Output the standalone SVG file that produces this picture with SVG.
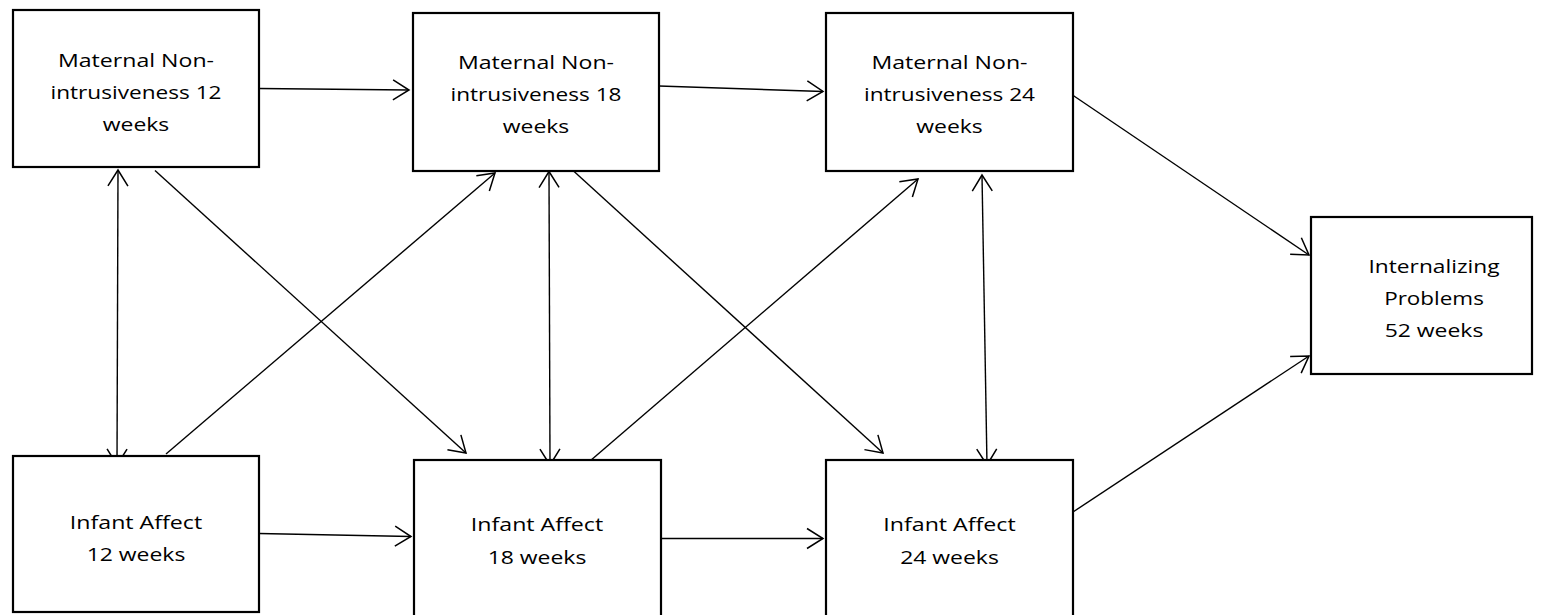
<svg xmlns="http://www.w3.org/2000/svg" width="1545" height="615" viewBox="0 0 1545 615">
<style>
.box{fill:#fff;stroke:#000;stroke-width:2.2}
.lbl{font-family:"Open Sans","Liberation Sans",sans-serif;font-size:19px;fill:#000;text-anchor:middle}
.c{fill:none;stroke:#000;stroke-width:1.4}
.one{marker-end:url(#ah)}
.two{marker-start:url(#ah);marker-end:url(#ah)}
</style>
<defs>
<marker id="ah" markerUnits="userSpaceOnUse" markerWidth="24" markerHeight="24" viewBox="-20 -12 24 24" refX="0" refY="0" orient="auto-start-reverse" overflow="visible">
<path d="M-16,-10 L0,0 L-16,10" fill="none" stroke="#000" stroke-width="1.5"/>
</marker>
</defs>
<rect width="1545" height="615" fill="#fff"/>
<g id="connectors">
<line class="c one" x1="259" y1="88.5" x2="409" y2="90"/>
<line class="c one" x1="659" y1="86" x2="823" y2="91.5"/>
<line class="c one" x1="1071" y1="94" x2="1309" y2="255"/>
<line class="c one" x1="1073" y1="512" x2="1309" y2="356"/>
<line class="c one" x1="259" y1="533.5" x2="411" y2="536.5"/>
<line class="c one" x1="661" y1="538.5" x2="823" y2="538.5"/>
<line class="c two" x1="118" y1="170" x2="117" y2="465"/>
<line class="c one" x1="155" y1="170.5" x2="466" y2="453"/>
<line class="c one" x1="166" y1="454" x2="495" y2="173"/>
<line class="c two" x1="549" y1="171.5" x2="550" y2="465"/>
<line class="c one" x1="573" y1="170.5" x2="883" y2="453"/>
<line class="c one" x1="590" y1="461" x2="918" y2="179"/>
<line class="c two" x1="982" y1="175" x2="987" y2="465"/>
</g>
<g id="m12">
<rect class="box" x="13" y="10" width="246" height="157"/>
<text class="lbl" x="136" y="67" textLength="156" lengthAdjust="spacingAndGlyphs">Maternal Non-</text>
<text class="lbl" x="136" y="99" textLength="171" lengthAdjust="spacingAndGlyphs">intrusiveness 12</text>
<text class="lbl" x="136" y="131" textLength="66.5" lengthAdjust="spacingAndGlyphs">weeks</text>
</g>
<g id="m18">
<rect class="box" x="413" y="13" width="246" height="158"/>
<text class="lbl" x="536" y="68.5" textLength="156" lengthAdjust="spacingAndGlyphs">Maternal Non-</text>
<text class="lbl" x="536" y="100.5" textLength="171" lengthAdjust="spacingAndGlyphs">intrusiveness 18</text>
<text class="lbl" x="536" y="132.5" textLength="66.5" lengthAdjust="spacingAndGlyphs">weeks</text>
</g>
<g id="m24">
<rect class="box" x="826" y="13" width="247" height="158"/>
<text class="lbl" x="949.5" y="68.5" textLength="156" lengthAdjust="spacingAndGlyphs">Maternal Non-</text>
<text class="lbl" x="949.5" y="100.5" textLength="171" lengthAdjust="spacingAndGlyphs">intrusiveness 24</text>
<text class="lbl" x="949.5" y="132.5" textLength="66.5" lengthAdjust="spacingAndGlyphs">weeks</text>
</g>
<g id="internalizing">
<rect class="box" x="1311" y="217" width="221" height="157"/>
<text class="lbl" x="1434" y="273" textLength="131" lengthAdjust="spacingAndGlyphs">Internalizing</text>
<text class="lbl" x="1434" y="305" textLength="99.7" lengthAdjust="spacingAndGlyphs">Problems</text>
<text class="lbl" x="1434" y="337" textLength="98.7" lengthAdjust="spacingAndGlyphs">52 weeks</text>
</g>
<g id="ia12">
<rect class="box" x="13" y="456" width="246" height="156"/>
<text class="lbl" x="136" y="528.5" textLength="132.4" lengthAdjust="spacingAndGlyphs">Infant Affect</text>
<text class="lbl" x="136" y="560.5" textLength="98.7" lengthAdjust="spacingAndGlyphs">12 weeks</text>
</g>
<g id="ia18">
<rect class="box" x="414" y="460" width="247" height="165"/>
<text class="lbl" x="537" y="531" textLength="132.4" lengthAdjust="spacingAndGlyphs">Infant Affect</text>
<text class="lbl" x="537" y="563.5" textLength="98.7" lengthAdjust="spacingAndGlyphs">18 weeks</text>
</g>
<g id="ia24">
<rect class="box" x="826" y="460" width="247" height="165"/>
<text class="lbl" x="949.5" y="530.5" textLength="132.4" lengthAdjust="spacingAndGlyphs">Infant Affect</text>
<text class="lbl" x="949.5" y="563.5" textLength="98.7" lengthAdjust="spacingAndGlyphs">24 weeks</text>
</g>
</svg>
